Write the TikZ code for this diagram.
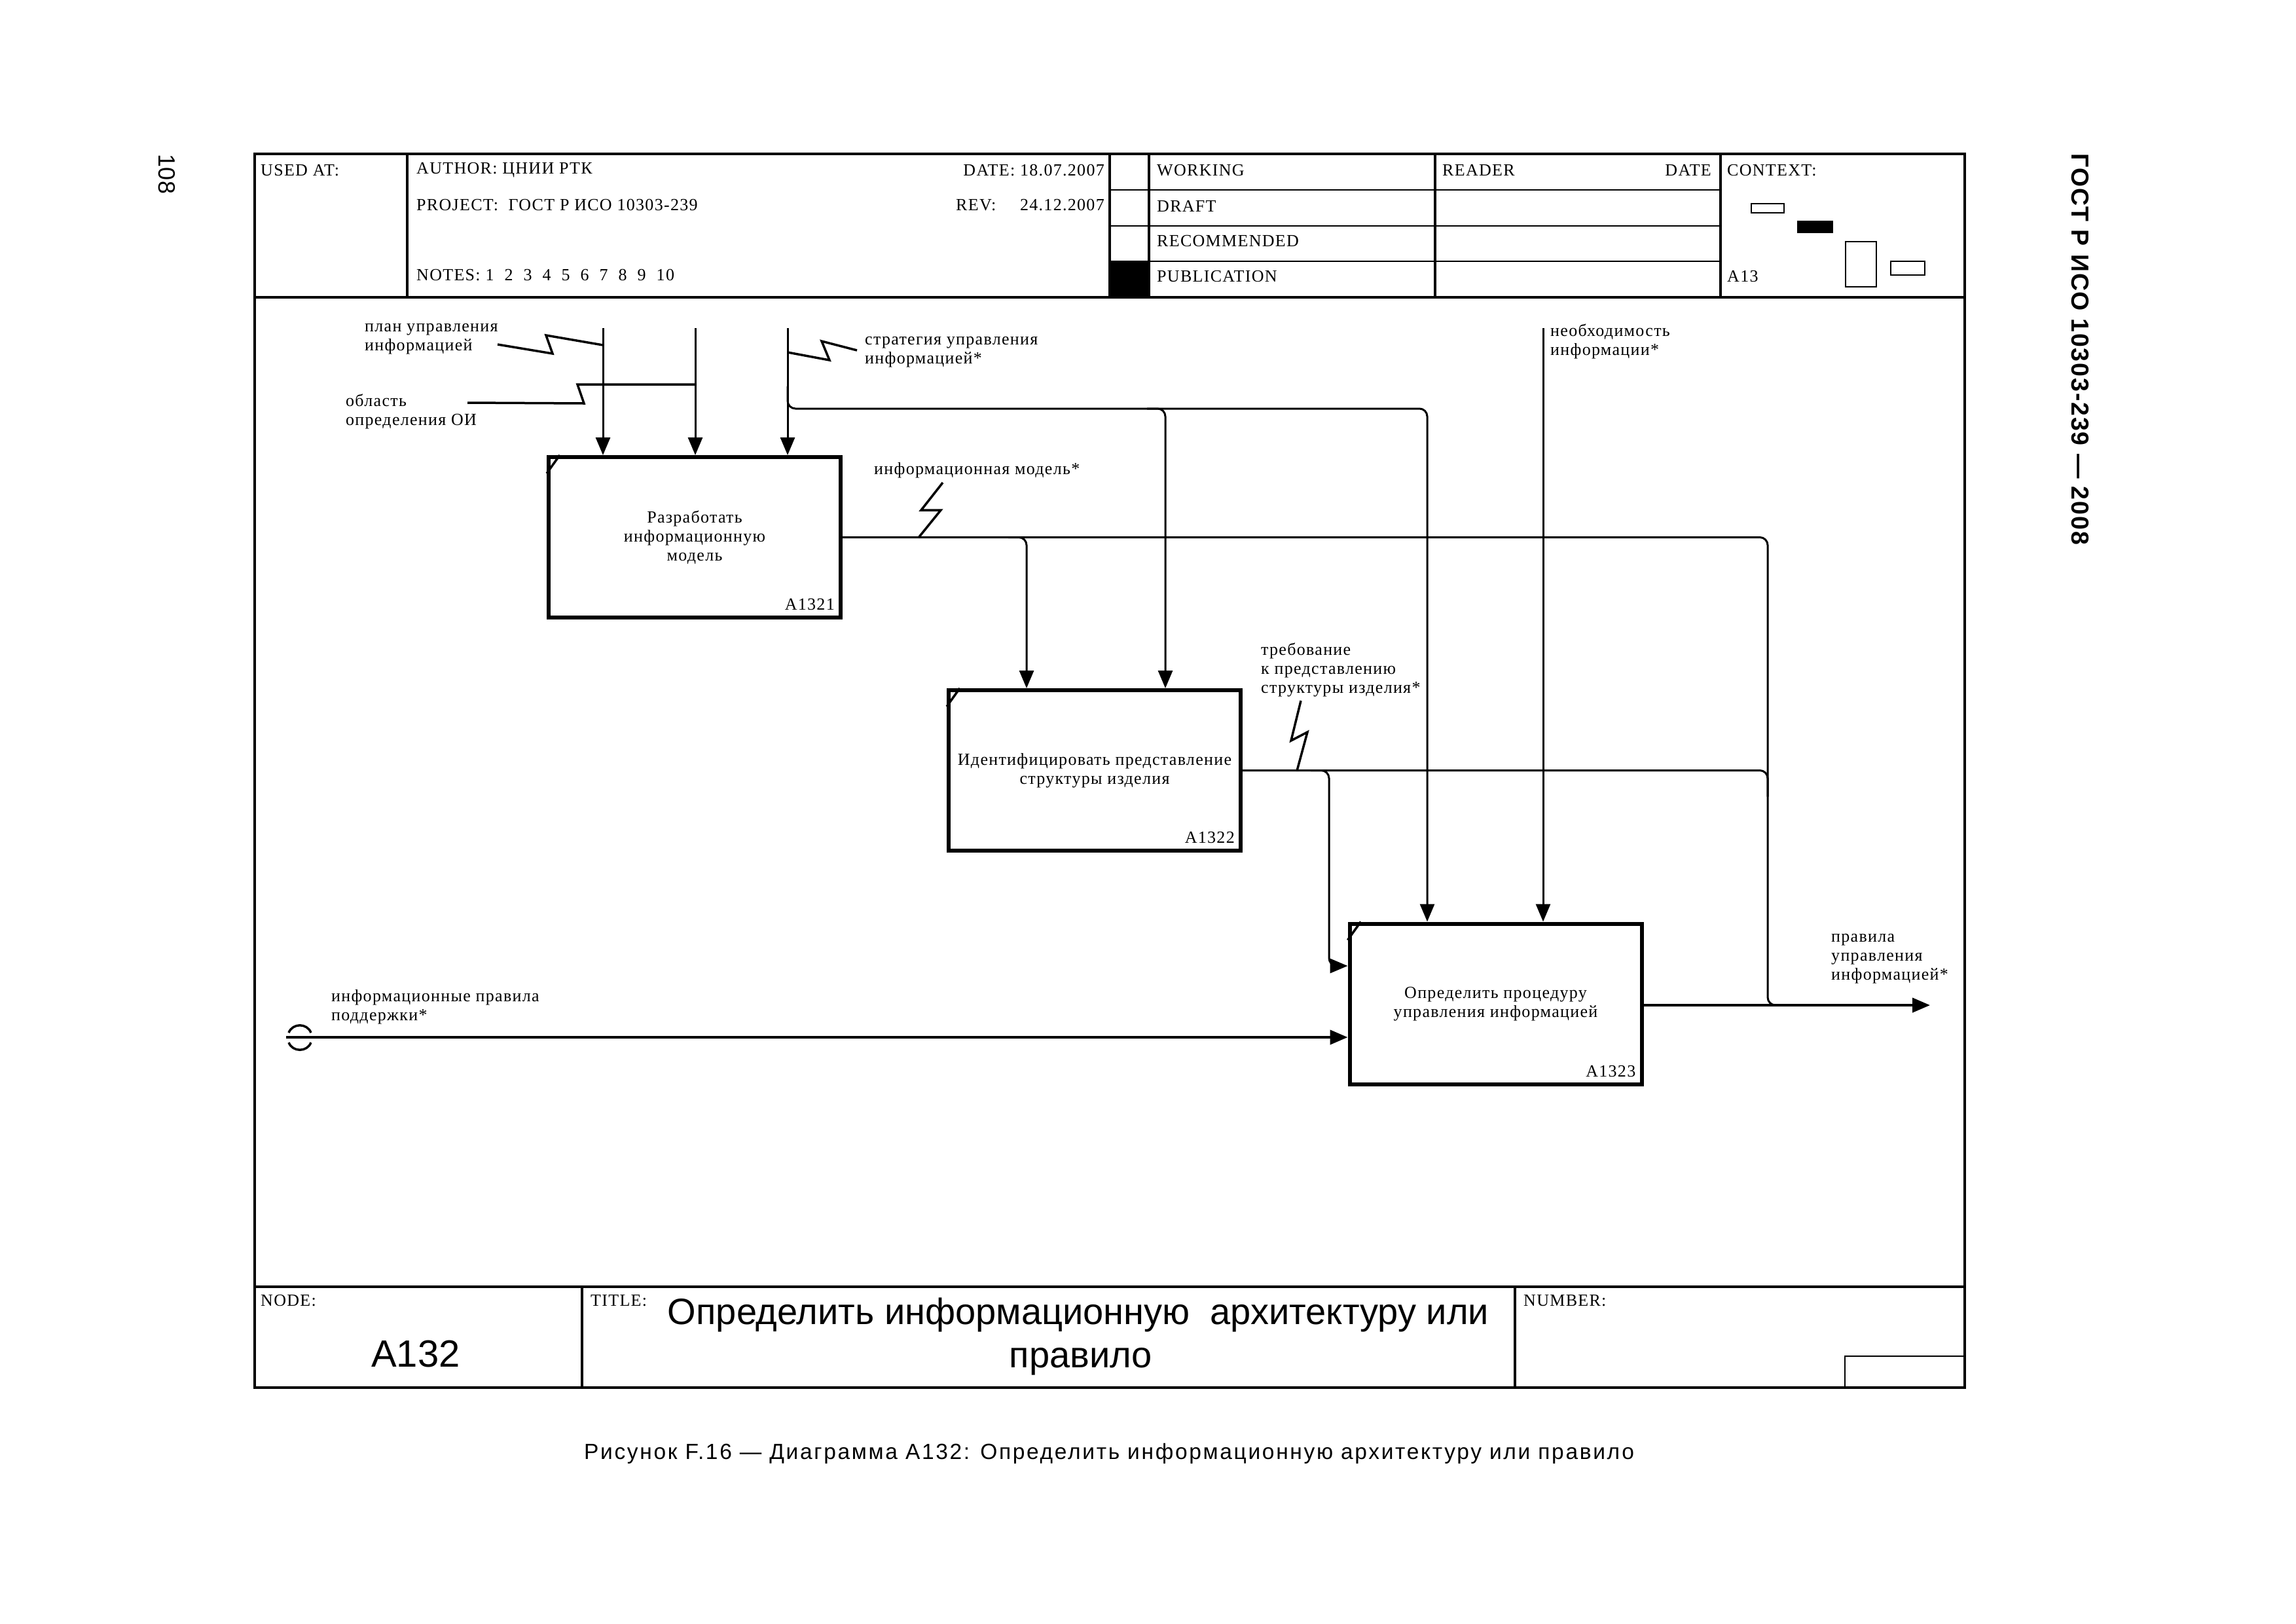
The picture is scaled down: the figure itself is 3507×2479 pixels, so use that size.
\documentclass[tikz,border=0pt]{standalone}
\usepackage{fontspec}
\setmainfont{Liberation Serif}
\newfontfamily\tms{Liberation Serif}[LetterSpace=5]
\newfontfamily\lsans{Liberation Sans}
\newfontfamily\capfont{Liberation Sans}[LetterSpace=8]
\newfontfamily\gostfont{Liberation Sans}[LetterSpace=5]
\usetikzlibrary{arrows.meta}
\begin{document}
\begin{tikzpicture}[x=1pt,y=-1pt,
  lbl/.style={font=\tms\fontsize{26}{29}\selectfont, inner sep=0pt, align=left},
  fr/.style={line width=4.5pt},
  vline/.style={line width=3.5pt},
  rowline/.style={line width=2.5pt},
  box/.style={draw, line width=6pt, minimum width=446pt, minimum height=245pt, inner sep=0pt,
              font=\tms\fontsize{26}{29}\selectfont, align=center},
  boxid/.style={font=\tms\fontsize{26}{29}\selectfont, inner sep=0pt, anchor=south east},
  conn/.style={line width=3pt, rounded corners=12pt},
  heavy/.style={line width=4pt},
  arr/.style={-{Triangle[length=27pt,width=22pt]}},
  sq/.style={line width=3.5pt},
  tick/.style={line width=3.5pt}]
\useasboundingbox (0,0) rectangle (3507,2479);
\fill[white] (0,0) rectangle (3507,2479);

% ---------- frame ----------
\draw[fr] (389,235) rectangle (3001,2119);
\draw[fr] (389,454) -- (3001,454);
\draw[vline] (622,235) -- (622,454);
\draw[vline] (1695,235) -- (1695,454);
\draw[vline] (1755,235) -- (1755,454);
\draw[vline] (2192,235) -- (2192,454);
\draw[vline] (2628,235) -- (2628,454);
\draw[rowline] (1695,290) -- (2628,290);
\draw[rowline] (1695,345) -- (2628,345);
\draw[rowline] (1695,399) -- (2628,399);
\fill (1695,399) rectangle (1755,454);

% context thumbnails
\draw[rowline] (2675,311) rectangle (2725,325);
\fill (2745,337) rectangle (2800,356);
\draw[rowline] (2819,369) rectangle (2866,438);
\draw[rowline] (2888,399) rectangle (2940,420);

% header texts
\node[lbl, anchor=west] (usedat) at (398,260) {USED AT:};
\node[lbl, anchor=west] (author) at (636,260) {AUTHOR: ЦНИИ РТК};
\node[lbl, anchor=west] (project) at (636,313) {PROJECT:\ \ ГОСТ Р ИСО 10303-239};
\node[lbl, anchor=west] (notes) at (636,420) {NOTES:\hspace{8pt}1\hspace{16pt}2\hspace{16pt}3\hspace{16pt}4\hspace{16pt}5\hspace{16pt}6\hspace{16pt}7\hspace{16pt}8\hspace{16pt}9\hspace{16pt}10};
\node[lbl, anchor=east] (date) at (1687,260) {DATE: 18.07.2007};
\node[lbl, anchor=west] (rev) at (1460,313) {REV:};
\node[lbl, anchor=east] (revdate) at (1687,313) {24.12.2007};
\node[lbl, anchor=west] (working) at (1767,260) {WORKING};
\node[lbl, anchor=west] (draft) at (1767,315) {DRAFT};
\node[lbl, anchor=west] (recom) at (1767,368) {RECOMMENDED};
\node[lbl, anchor=west] (publ) at (1767,422) {PUBLICATION};
\node[lbl, anchor=west] (reader) at (2203,260) {READER};
\node[lbl, anchor=east] (rdate) at (2614,260) {DATE};
\node[lbl, anchor=west] (context) at (2638,260) {CONTEXT:};
\node[lbl, anchor=west] (ctxid) at (2638,422) {A13};

% ---------- footer ----------
\draw[fr] (389,1965) -- (3001,1965);
\draw[vline] (889,1965) -- (889,2119);
\draw[vline] (2314,1965) -- (2314,2119);
\draw[rowline] (2818,2119) -- (2818,2071) -- (3001,2071);
\node[lbl, anchor=west] (nodelbl) at (398,1986) {NODE:};
\node[lbl, anchor=west] (titlelbl) at (902,1986) {TITLE:};
\node[lbl, anchor=west] (numlbl) at (2327,1986) {NUMBER:};
\node[font=\lsans\fontsize{58}{60}\selectfont, anchor=base, inner sep=0pt] (nodeid) at (635,2087) {A132};
\node[font=\lsans\fontsize{56}{60}\selectfont, anchor=base, inner sep=0pt] (title1) at (1647,2022) {Определить информационную\ \ архитектуру или};
\node[font=\lsans\fontsize{56}{60}\selectfont, anchor=base, inner sep=0pt] (title2) at (1651,2088) {правило};

% caption and margins
\node[font=\capfont\fontsize{33.5}{36}\selectfont, anchor=base, inner sep=0pt] (caption) at (1694,2228) {Рисунок F.16 — Диаграмма А132: Определить информационную архитектуру или правило};
\node[font=\lsans\fontsize{36}{40}\selectfont, rotate=-90, inner sep=0pt] (page) at (255,266) {108};
\node[font=\gostfont\bfseries\fontsize{37.5}{40}\selectfont, rotate=-90, inner sep=0pt] (gost) at (3177,533) {ГОСТ Р ИСО 10303-239 — 2008};

% ---------- activity boxes ----------
\node[box] (b1) at (1061,820.5) {Разработать\\информационную\\модель};
\node[box] (b2) at (1672,1176.5) {Идентифицировать представление\\структуры изделия};
\node[box] (b3) at (2284.5,1533) {Определить процедуру\\управления информацией};
\node[boxid] (b1id) at ([xshift=-12pt,yshift=14pt]b1.south east) {A1321};
\node[boxid] (b2id) at ([xshift=-12pt,yshift=14pt]b2.south east) {A1322};
\node[boxid] (b3id) at ([xshift=-12pt,yshift=14pt]b3.south east) {A1323};
\foreach \b in {b1,b2,b3}{
  \draw[tick] ([yshift=-28pt]\b.north west) -- ([xshift=20pt]\b.north west);
}

% ---------- labels ----------
\node[lbl, anchor=west] (lplan) at (557,517.5) {план управления\\информацией};
\node[lbl, anchor=west] (lobl) at (528,628) {область\\определения ОИ};
\node[lbl, anchor=west] (lstrat) at (1321,537.5) {стратегия управления\\информацией*};
\node[lbl, anchor=west] (lneed) at (2368,521.5) {необходимость\\информации*};
\node[lbl, anchor=west] (lmodel) at (1335,718) {информационная модель*};
\node[lbl, anchor=west] (lreq) at (1926,1023) {требование\\к представлению\\структуры изделия*};
\node[lbl, anchor=west] (lrules) at (2797,1464) {правила\\управления\\информацией*};
\node[lbl, anchor=west] (lsupp) at (506,1538) {информационные правила\\поддержки*};

% ---------- coordinates ----------
\coordinate (cplan) at (921,501);
\coordinate (cobl) at (1062,501);
\coordinate (cstrat) at (1203,501);
\coordinate (cneed) at (2357,501);
\coordinate (xs3) at (2180,624);
\coordinate (xs2) at (1780,624);
\coordinate (xm2) at (1568,820.5);
\coordinate (xo3) at (2030,1176.5);
\coordinate (vr) at (2700,1535);
\coordinate (yin) at (0,1475);
\coordinate (tin) at (437,1584);
\coordinate (outend) at (2948,1535);

% ---------- controls ----------
\draw[conn,arr] (cplan) -- (cplan |- b1.north);
\draw[conn,arr] (cobl) -- (cobl |- b1.north);
\draw[conn,arr] (cstrat) -- (cstrat |- b1.north);
\draw[conn,arr] (1203,590) -- (1203,624) -- (xs3) -- (xs3 |- b3.north);
\draw[conn,arr] (1752,624) -- (xs2) -- (xs2 |- b2.north);
\draw[conn,arr] (cneed) -- (cneed |- b3.north);

% ---------- flows ----------
\draw[conn] (b1.east) -- (b1.east -| vr) -- (vr) -- ++(40,0);
\draw[conn,arr] (1540,820.5) -- (xm2) -- (xm2 |- b2.north);
\draw[conn] (b2.east) -- (b2.east -| vr) -- ++(0,40);
\draw[conn,arr] (2002,1176.5) -- (xo3) -- (xo3 |- yin) -- (b3.west |- yin);
\draw[heavy,arr] (b3.east |- outend) -- (outend);
\draw[heavy,arr] (tin) -- (tin -| b3.west);

% tunnel
\draw[sq] (441,1577) .. controls (447,1562) and (469,1562) .. (475,1577);
\draw[sq] (441,1592) .. controls (447,1607) and (469,1607) .. (475,1592);

% ---------- squiggles ----------
\draw[sq] (760,526) -- (844,540) -- (834,512) -- (921,527);
\draw[sq] (714,615) -- (892,616) -- (882,587) -- (1062,587);
\draw[sq] (1203,538) -- (1267,550) -- (1255,521) -- (1309,535);
\draw[sq] (1440,737) -- (1407,779) -- (1437,779) -- (1403,821);
\draw[sq] (1987,1070) -- (1972,1131) -- (1997,1118) -- (1981,1177);
\end{tikzpicture}
\end{document}
